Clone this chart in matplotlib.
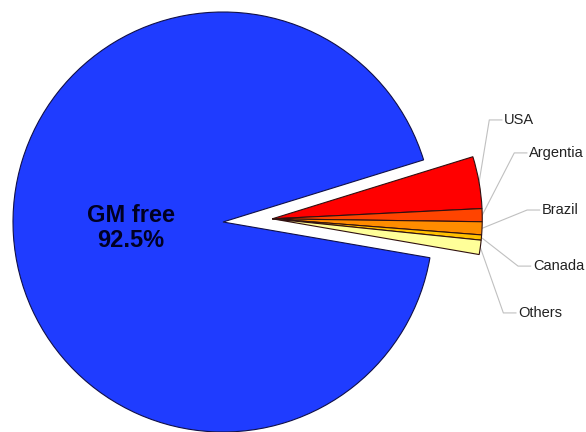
import numpy as np
import matplotlib
matplotlib.use("Agg")
import matplotlib.pyplot as plt

# data
labels = ['USA', 'Argentia', 'Brazil', 'Canada', 'Others', 'GM free']
shares = [4.0, 1.0, 1.0, 0.4, 1.1, 92.5]
colors = ['#FF0000', '#FF4400', '#FF8C00', '#FFC000', '#FFFF99', '#1F3CFF']

# label text positions (data units, left edge / middle)
label_pos = [(1.338, 0.486), (1.457, 0.329), (1.518, 0.057),
             (1.475, -0.210), (1.405, -0.433)]


def main():
    plt.rcParams['font.family'] = ['Liberation Sans', 'DejaVu Sans']
    fig = plt.figure(figsize=(5.86, 4.32), dpi=100)
    ax = fig.add_axes([0, 0, 1, 1])

    start = 17.2
    wedges, _ = ax.pie(shares, colors=colors, startangle=start,
                       counterclock=False, radius=1.0,
                       wedgeprops=dict(edgecolor='#301010', linewidth=0.8))
    wedges[-1].set_edgecolor('#101048')

    # pull the small slices out together along their common bisector
    small = np.array(shares[:-1])
    total = small.sum()
    mid = np.deg2rad(start - 360 * total / 100 / 2)
    dist = 0.235
    off = (dist * np.cos(mid), dist * np.sin(mid))
    for w in wedges[:-1]:
        w.set_center(off)

    # leader lines and labels
    edges = start - 360 * np.concatenate([[0], np.cumsum(small)]) / 100
    for i, (x, y) in enumerate(label_pos):
        a = np.deg2rad((edges[i] + edges[i + 1]) / 2)
        ax0 = off[0] + np.cos(a)
        ay0 = off[1] + np.sin(a)
        ex = x - 0.07
        ax.plot([ax0, ex, x - 0.01], [ay0, y, y], color='#C0C0C0',
                lw=0.8, zorder=0)
        ax.text(x, y, labels[i], ha='left', va='center', fontsize=10.5,
                color='#222222')

    ax.text(-0.438, -0.029, 'GM free\n92.5%', ha='center', va='center',
            fontsize=17, fontweight='bold', color='#000022',
            linespacing=1.15)

    ax.set_aspect('auto')
    ax.set_xlim((0 - 223) / 210, (586 - 223) / 210)
    ax.set_ylim((222 - 432) / 210, 222 / 210)
    ax.axis('off')

    fig.savefig('out.png', dpi=100)


if __name__ == "__main__":
    main()
